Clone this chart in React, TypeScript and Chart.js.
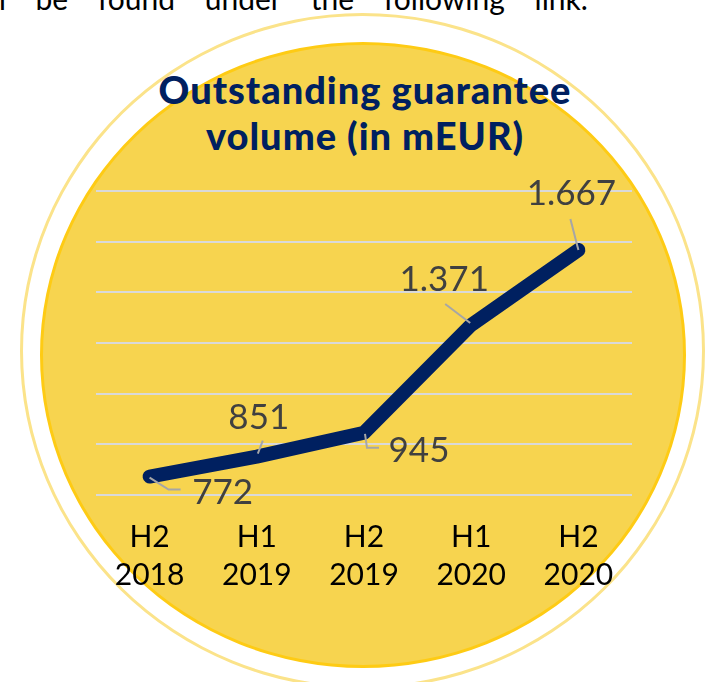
import React, { useEffect, useRef } from "react";
import { Chart, registerables } from "chart.js";

Chart.register(...registerables);

// ---- data ----
const categories: string[][] = [
  ["H2", "2018"],
  ["H1", "2019"],
  ["H2", "2019"],
  ["H1", "2020"],
  ["H2", "2020"],
];
const volumes: number[] = [772, 851, 945, 1371, 1667];
const valueLabels: string[] = ["772", "851", "945", "1.371", "1.667"];
const yMin = 700;
const yMax = 1900;
const yStep = 200;

const titleLines = ["Outstanding guarantee", "volume (in mEUR)"];
const topText = "n be found under the following link.";

// ---- label placement (style) ----
const labelPlacement = [
  { dx: 73, dy: 14, leader: [[0, 1], [19, 13], [31, 13]] },
  { dx: 2, dy: -41, leader: [[1, -3], [6, -16]] },
  { dx: 55, dy: 16, leader: [[1, 1], [3, 15], [15, 15]] },
  { dx: -27, dy: -47, leader: [[-1, -2], [-26, -21]] },
  { dx: -7, dy: -58, leader: [[0, 0], [-8, -31]] },
];

const NAVY = "#002060";

const labelPlugin = {
  id: "valueLabels",
  afterDatasetsDraw(chart: any) {
    const ctx = chart.ctx;
    const meta = chart.getDatasetMeta(0);
    ctx.save();
    meta.data.forEach((pt: any, i: number) => {
      const p = labelPlacement[i];
      ctx.strokeStyle = "#A6A6A6";
      ctx.lineWidth = 2;
      ctx.lineCap = "butt";
      ctx.beginPath();
      p.leader.forEach((q, k) => {
        const x = pt.x + q[0];
        const y = pt.y + q[1];
        if (k === 0) ctx.moveTo(x, y);
        else ctx.lineTo(x, y);
      });
      ctx.stroke();
      ctx.font = "400 35px Lato";
      ctx.fillStyle = "#404040";
      ctx.textAlign = "center";
      ctx.textBaseline = "alphabetic";
      ctx.fillText(valueLabels[i], pt.x + p.dx, pt.y + p.dy + 13);
    });
    ctx.restore();
  },
};

export default function App() {
  const canvasRef = useRef<HTMLCanvasElement | null>(null);

  useEffect(() => {
    if (!canvasRef.current) return;
    const chart = new Chart(canvasRef.current, {
      type: "line",
      data: {
        labels: categories,
        datasets: [
          {
            data: volumes,
            borderColor: NAVY,
            backgroundColor: NAVY,
            borderWidth: 14,
            borderCapStyle: "round",
            borderJoinStyle: "round",
            pointRadius: 0,
            pointHoverRadius: 0,
            tension: 0,
            fill: false,
          },
        ],
      },
      options: {
        animation: false,
        responsive: false,
        maintainAspectRatio: false,
        events: [],
        layout: { padding: { left: 96, right: 83, top: 191, bottom: 73 } },
        plugins: {
          legend: { display: false },
          tooltip: { enabled: false },
          title: { display: false },
        },
        scales: {
          x: {
            type: "category",
            offset: true,
            grid: { display: false },
            border: { display: false },
            ticks: {
              color: "#000000",
              font: { family: "Lato", size: 30, weight: "400", lineHeight: 1.27 },
              padding: 15,
              maxRotation: 0,
              autoSkip: false,
            },
          },
          y: {
            min: yMin,
            max: yMax,
            ticks: { stepSize: yStep, display: false },
            grid: { color: "#D9D9D9", lineWidth: 2, drawTicks: false },
            border: { display: false },
          },
        },
      },
      plugins: [labelPlugin],
    } as any);
    return () => chart.destroy();
  }, []);

  return (
    <div
      style={{
        position: "absolute",
        left: 0,
        top: 0,
        width: 715,
        height: 682,
        overflow: "hidden",
        background: "#ffffff",
      }}
    >
      <div
        style={{
          position: "absolute",
          left: -11,
          top: -20,
          whiteSpace: "nowrap",
          font: "400 30px Lato",
          lineHeight: "36px",
          wordSpacing: 22,
          color: "#000",
        }}
      >
        {topText}
      </div>
      <div
        style={{
          position: "absolute",
          left: 20,
          top: 13,
          width: 685,
          height: 676,
          borderRadius: "50%",
          border: "3px solid #FBE38A",
          boxSizing: "border-box",
        }}
      />
      <div
        style={{
          position: "absolute",
          left: 40,
          top: 42,
          width: 646,
          height: 626,
          borderRadius: "50%",
          background: "#F7D44F",
          border: "3px solid #FECB14",
          boxSizing: "border-box",
        }}
      />
      <div
        style={{
          position: "absolute",
          left: 0,
          top: 66,
          width: 730,
          textAlign: "center",
          font: "900 38px Lato",
          letterSpacing: 1,
          lineHeight: "46px",
          color: NAVY,
        }}
      >
        {titleLines.map((l, i) => (
          <div key={i}>{l}</div>
        ))}
      </div>
      <canvas
        ref={canvasRef}
        width={715}
        height={682}
        style={{ position: "absolute", left: 0, top: 0, width: 715, height: 682 }}
      />
    </div>
  );
}
